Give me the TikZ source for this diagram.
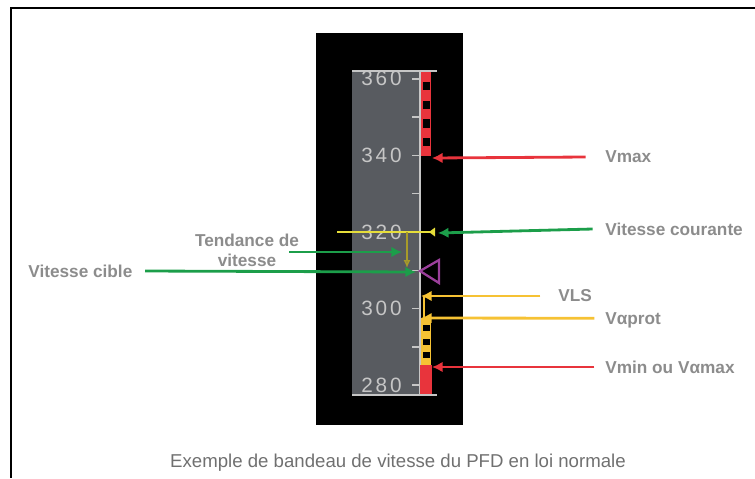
\documentclass[tikz,border=0pt]{standalone}
\usepackage{fontspec}
\setmainfont{Liberation Sans}
\newfontfamily\tapefont[LetterSpace=14]{Liberation Sans}
\usepackage{tikz}
\usepackage{xcolor}
\usetikzlibrary{positioning, arrows.meta}

\definecolor{spdred}{HTML}{E8343C}
\definecolor{spdgreen}{HTML}{1C9E4A}
\definecolor{spdamber}{HTML}{F6C234}
\definecolor{spdyellow}{HTML}{E6DE3A}
\definecolor{spdolive}{HTML}{A89B2A}
\definecolor{spdmagenta}{HTML}{9B3F9B}
\definecolor{tapegrey}{HTML}{585B60}
\definecolor{tapelight}{HTML}{C6C6C6}
\definecolor{lblgrey}{HTML}{8C8C8C}
\definecolor{captgrey}{HTML}{707070}

\begin{document}
\begin{tikzpicture}[
x=0.02cm, y=-0.02cm,
lbl/.style={inner sep=0pt, anchor=west, text=lblgrey, font=\fontsize{9.8pt}{11.5pt}\selectfont\bfseries},
capt/.style={inner sep=0pt, text=captgrey, font=\fontsize{10.6pt}{12pt}\selectfont},
tapeno/.style={inner sep=0pt, anchor=east, text=tapelight, font=\fontsize{11.8pt}{12pt}\selectfont\tapefont},
tapetick/.style={draw=tapelight, line width=0.9pt},
arrow/.style={-{Latex[length=6pt, width=6pt]}, line width=1.6pt},
bug/.style={line width=1.4pt}
]

\useasboundingbox (0,0) rectangle (755,478);
\draw[line width=0.9pt] (755,8) -- (11,8) -- (11,478);

\fill[black] (316,33) rectangle (463,425);
\fill[tapegrey] (352,71) rectangle (420,395);
\draw[tapetick] (420,71) -- (420,395);
\draw[tapetick] (352,71) -- (437,71);
\draw[tapetick] (352,395) -- (437,395);

\foreach \v in {280,290,...,360}
  \draw[tapetick] (412,{232+(320-\v)*3.83}) -- (420,{232+(320-\v)*3.83});
\foreach \v in {280,300,...,360}
  \node[tapeno] (tape_\v) at (402,{232+(320-\v)*3.83}) {\v};

\fill[spdred] (421,72) rectangle (431,156);
\foreach \i in {1,3,5,7}
  \fill[black] (422.5,{72+\i*9.33+0.7}) rectangle (429.5,{72+(\i+1)*9.33-0.3});
\fill[spdamber] (421,318) rectangle (431,365);
\foreach \i in {1,3,5}
  \fill[black] (422.5,{318+\i*6.71+0.5}) rectangle (429.5,{318+(\i+1)*6.71-0.3});
\fill[spdred] (420,365) rectangle (432,394);

\draw[spdyellow, bug] (337,232) -- (435,232);
\fill[spdyellow] (435,227.5) -- (435,236.5) -- (429,232) -- cycle;
\draw[spdolive, line width=1pt, -{Latex[length=4.5pt, width=4pt, open]}] (407,232) -- (407,268);
\draw[spdmagenta, line width=1.3pt] (420,271) -- (439,260) -- (439,283) -- cycle;
\draw[spdamber, line width=1.2pt] (424,296) -- (424,318);

\coordinate (tip_vmax) at (432,158);
\coordinate (tip_cour) at (438,233);
\coordinate (tail_tend) at (289,252);
\coordinate (tip_tend) at (402,252);
\coordinate (tip_cible) at (416,272);
\coordinate (tip_vls) at (421,296);
\coordinate (tip_prot) at (421,318);
\coordinate (tip_vmin) at (432,367);

\node[lbl] (lbl_vmax) at (605,157) {Vmax};
\node[lbl] (lbl_cour) at (605,229) {Vitesse courante};
\node[lbl, anchor=center, align=center] (lbl_tend) at (247,250) {Tendance de\\vitesse};
\node[lbl] (lbl_cible) at (28,271) {Vitesse cible};
\node[lbl] (lbl_vls) at (558,296) {VLS};
\node[lbl] (lbl_prot) at (605,320) {Vαprot};
\node[lbl] (lbl_vmin) at (605,367) {Vmin ou Vαmax};

\node[capt] (caption) at (398,463) {Exemple de bandeau de vitesse du PFD en loi normale};

\draw[arrow, spdred] ([xshift=-11pt]lbl_vmax.west) -- (tip_vmax);
\draw[arrow, spdgreen] ([xshift=-7pt]lbl_cour.west) -- (tip_cour);
\draw[arrow, spdgreen] (tail_tend) -- (tip_tend);
\draw[arrow, spdgreen] ([xshift=7pt]lbl_cible.east) -- (tip_cible);
\draw[arrow, spdamber] ([xshift=-10pt]lbl_vls.west) -- (tip_vls);
\draw[arrow, spdamber] ([xshift=-6pt,yshift=1pt]lbl_prot.west) -- (tip_prot);
\draw[arrow, spdred] ([xshift=-6pt]lbl_vmin.west) -- (tip_vmin);

\end{tikzpicture}
\end{document}
